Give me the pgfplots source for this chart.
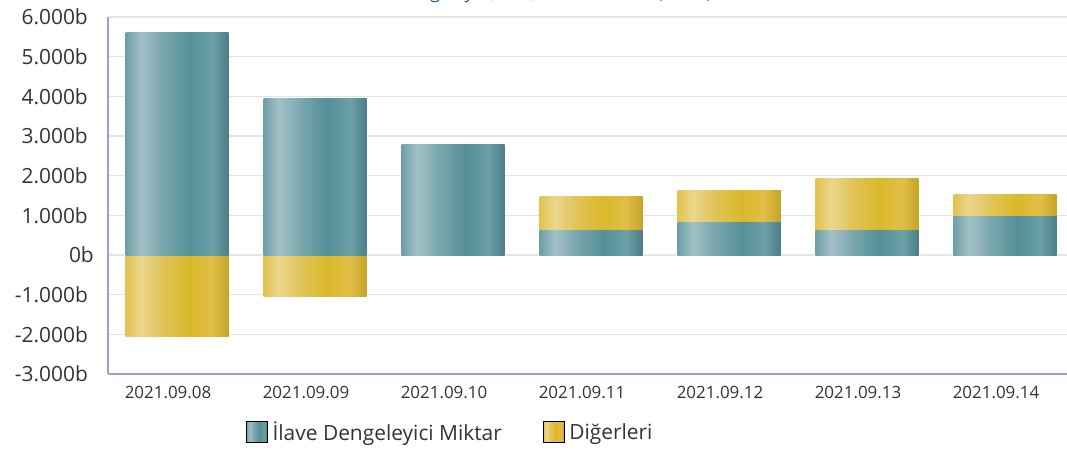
\documentclass[border=0pt]{standalone}
\usepackage{pgfplots}
\pgfplotsset{compat=1.18}
\usepackage{fontspec}
\setmainfont{Open Sans}
\definecolor{titleblue}{HTML}{1F5FA8}
\definecolor{labcol}{HTML}{333333}
\definecolor{axiscol}{HTML}{A0A0CC}
\definecolor{gridcol}{HTML}{E4E2EC}
\definecolor{ta}{HTML}{6E9FA7}
\definecolor{tb}{HTML}{A3C1C7}
\definecolor{tc}{HTML}{7CA8AE}
\definecolor{td}{HTML}{548F98}
\definecolor{te}{HTML}{6BA0A7}
\definecolor{tf}{HTML}{4B7E86}
\definecolor{ya}{HTML}{E2C24E}
\definecolor{yb}{HTML}{EBD68E}
\definecolor{yc}{HTML}{E1C45A}
\definecolor{yd}{HTML}{DBB82A}
\definecolor{ye}{HTML}{E1BF48}
\definecolor{yf}{HTML}{C5A326}
\pgfdeclarehorizontalshading{tealbar}{100bp}{color(0bp)=(ta); color(25bp)=(ta); color(32.5bp)=(tb); color(42.5bp)=(tc); color(56bp)=(td); color(67bp)=(te); color(75bp)=(tf); color(100bp)=(tf)}
\pgfdeclarehorizontalshading{yellowbar}{100bp}{color(0bp)=(ya); color(25bp)=(ya); color(32.5bp)=(yb); color(42.5bp)=(yc); color(56bp)=(yd); color(67bp)=(ye); color(75bp)=(yf); color(100bp)=(yf)}
\pgfplotsset{
  tealstyle/.style={forget plot, bar shift=0pt, draw=none, fill=none, shade, shading=tealbar},
  yellowstyle/.style={forget plot, bar shift=0pt, draw=none, fill=none, shade, shading=yellowbar},
}
\begin{document}
\begin{tikzpicture}
\path[use as bounding box] (0bp,0bp) rectangle (1067bp,451bp);
\node[anchor=base east, text=titleblue, font=\fontsize{18}{20}\selectfont, inner sep=0pt] at (712bp,452bp) {İlave Dengeleyici, YAL, YAT Miktarları (MWh)};
\begin{axis}[
  at={(108bp,77bp)}, anchor=south west,
  width=959bp, height=357bp, scale only axis,
  xmin=-0.5, xmax=6.449, ymin=-3000, ymax=6000,
  ytick={-3000,-2000,-1000,0,1000,2000,3000,4000,5000,6000},
  yticklabels={-3.000b,-2.000b,-1.000b,0b\kern-6bp,1.000b,2.000b,3.000b,4.000b,5.000b,6.000b},
  xtick={0,1,2,3,4,5,6},
  xticklabels={2021.09.08,2021.09.09,2021.09.10,2021.09.11,2021.09.12,2021.09.13,2021.09.14},
  separate axis lines,
  axis x line*=bottom, axis y line*=left,
  axis line style={draw=axiscol, line width=1.3bp, -},
  ymajorgrids, grid style={draw=gridcol, line width=1.5bp},
  major tick length=0pt, tick style={draw=none},
  yticklabel style={font=\fontsize{21}{24}\selectfont, text=labcol, inner sep=0pt, xshift=-20bp},
  xticklabel style={font=\fontsize{17}{20}\selectfont, text=labcol, inner sep=0pt, yshift=-12bp, xshift=-9bp},
  ybar, bar width=103bp,
  legend columns=2,
  legend style={at={(0.1439,-0.1625)}, anchor=west, draw=none, fill=none, inner sep=0pt,
    font=\fontsize{21}{24}\selectfont, text=labcol, nodes={inner sep=0pt},
    /tikz/every odd column/.style={column sep=5bp},
    /tikz/every even column/.style={column sep=41bp}},
]
\addlegendimage{legend image code/.code={\path[shade, shading=tealbar] (0bp,-10.5bp) rectangle (21bp,10.5bp);}}
\addlegendentry{İlave Dengeleyici Miktar}
\addlegendimage{legend image code/.code={\path[shade, shading=yellowbar] (0bp,-10.5bp) rectangle (21bp,10.5bp);}}
\addlegendentry{Diğerleri}
% Digerleri: negative value, or top of the yellow part on positive days
% (one plot per bar so that each bar carries its own shading)
\addplot[yellowstyle] coordinates {(0,-2050)};
\addplot[yellowstyle] coordinates {(1,-1040)};
\addplot[yellowstyle] coordinates {(3,1470)};
\addplot[yellowstyle] coordinates {(4,1620)};
\addplot[yellowstyle] coordinates {(5,1930)};
\addplot[yellowstyle] coordinates {(6,1520)};
% Ilave Dengeleyici Miktar
\addplot[tealstyle] coordinates {(0,5600)};
\addplot[tealstyle] coordinates {(1,3940)};
\addplot[tealstyle] coordinates {(2,2780)};
\addplot[tealstyle] coordinates {(3,620)};
\addplot[tealstyle] coordinates {(4,820)};
\addplot[tealstyle] coordinates {(5,620)};
\addplot[tealstyle] coordinates {(6,970)};
\end{axis}
\end{tikzpicture}
\end{document}
